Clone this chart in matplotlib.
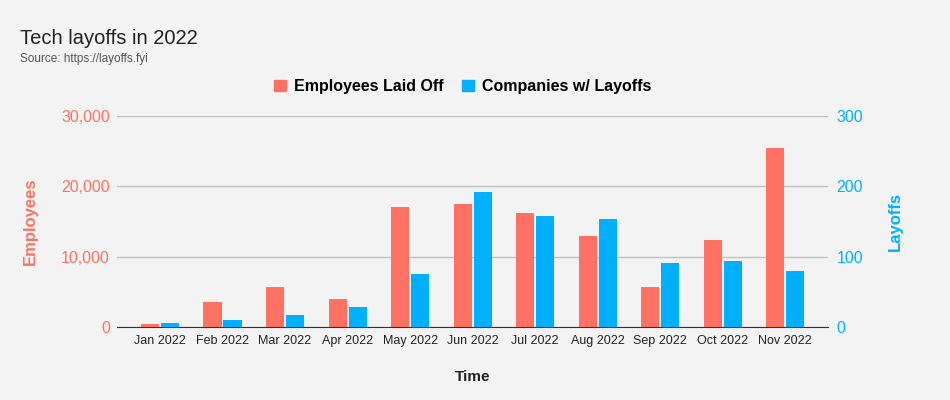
import matplotlib.pyplot as plt
import numpy as np
from matplotlib.patches import Patch

plt.rcParams['font.family'] = ['Liberation Sans', 'DejaVu Sans']

months = ['Jan 2022', 'Feb 2022', 'Mar 2022', 'Apr 2022', 'May 2022', 'Jun 2022',
          'Jul 2022', 'Aug 2022', 'Sep 2022', 'Oct 2022', 'Nov 2022']
employees = [470, 3600, 5700, 4000, 17000, 17500, 16250, 13000, 5700, 12400, 25500]
companies = [5, 10, 17, 29, 76, 192, 158, 154, 91, 94, 80]

red = '#FF7163'
blue = '#00B0FF'
bg = '#F3F3F3'

fig = plt.figure(figsize=(9.5, 4), dpi=100, facecolor=bg)
ax = fig.add_axes([0.123, 0.1825, 0.749, 0.5275], facecolor=bg)
ax2 = ax.twinx()

x = np.arange(len(months))
w = 0.29
ax.bar(x - 0.16, employees, w, color=red, zorder=3)
ax2.bar(x + 0.16, companies, w, color=blue, zorder=3)

ax.set_xlim(-0.69, 10.69)
ax.set_ylim(0, 30000)
ax2.set_ylim(0, 300)
ax.set_yticks([0, 10000, 20000, 30000])
ax.set_yticklabels(['0', '10,000', '20,000', '30,000'])
ax2.set_yticks([0, 100, 200, 300])
ax.grid(axis='y', color='#C0C0C0', linewidth=1, zorder=0)

ax.set_xticks(x)
ax.set_xticklabels(months, fontsize=9, color='#222222')
ax.tick_params(axis='x', length=0, pad=6)
ax.tick_params(axis='y', length=0, labelsize=11.5, labelcolor=red, pad=5)
ax2.tick_params(axis='y', length=0, labelsize=11.5, labelcolor=blue, pad=6)

for a in (ax, ax2):
    for s in ['top', 'left', 'right']:
        a.spines[s].set_visible(False)
ax2.spines['bottom'].set_visible(False)
ax.spines['bottom'].set_color('#333333')
ax.spines['bottom'].set_zorder(5)

ax.set_xlabel('Time', fontsize=11, fontweight='bold', labelpad=16, color='#222222')
ax.set_ylabel('Employees', fontsize=12, fontweight='bold', color=red)
ax2.set_ylabel('Layoffs', fontsize=12, fontweight='bold', color=blue)
ax.yaxis.set_label_coords(-0.111, 0.5)
ax2.yaxis.set_label_coords(1.084, 0.5)

fig.text(0.021, 0.905, 'Tech layoffs in 2022', fontsize=14.5, color='#222222', va='center')
fig.text(0.021, 0.852, 'Source: https://layoffs.fyi', fontsize=8.5, color='#555555', va='center')

handles = [Patch(color=red), Patch(color=blue)]
fig.legend(handles, ['Employees Laid Off', 'Companies w/ Layoffs'], loc='center',
           bbox_to_anchor=(0.487, 0.783), ncol=2, frameon=False,
           prop={'size': 11.5, 'weight': 'bold'}, handlelength=0.7, handleheight=0.7,
           handletextpad=0.5, columnspacing=1.2)

fig.savefig('out.png', dpi=100, facecolor=bg)
